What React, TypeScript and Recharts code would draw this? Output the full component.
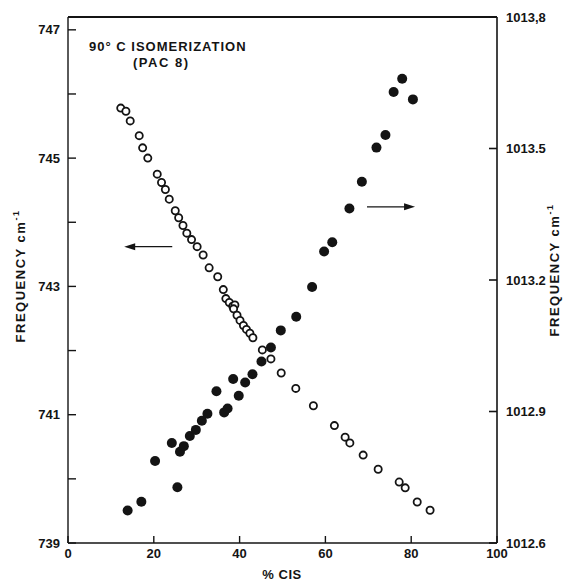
import React from 'react';
import { ScatterChart, Scatter, XAxis, YAxis, ReferenceLine } from 'recharts';

// open circles, left axis (cm-1 near 740-746)
const openPctCis = [
  12.3, 13.5, 14.5, 16.6, 17.4, 18.6, 20.8, 21.8, 22.7, 23.6, 25.0, 25.8, 26.8, 27.7, 28.8,
  30.1, 31.5, 32.9, 34.9, 36.2, 36.8, 37.6, 38.4, 38.9, 38.6, 39.4, 40.1, 40.9, 41.6, 42.4,
  43.1, 45.3, 47.3, 49.7, 53.1, 57.2, 62.1, 64.6, 65.7, 68.8, 72.3, 77.2, 78.6, 81.4, 84.4,
];
const openFreq = [
  745.78, 745.73, 745.58, 745.35, 745.16, 745.0, 744.75, 744.62, 744.51, 744.36, 744.18, 744.07, 743.95, 743.83, 743.73,
  743.62, 743.49, 743.29, 743.15, 742.95, 742.81, 742.75, 742.69, 742.71, 742.65, 742.55, 742.47, 742.39, 742.33, 742.27,
  742.2, 742.01, 741.87, 741.65, 741.41, 741.14, 740.83, 740.65, 740.56, 740.37, 740.15, 739.95, 739.86, 739.64, 739.51,
];

// filled circles, right axis (cm-1 near 1013)
const filledPctCis = [
  13.9, 17.1, 20.3, 24.2, 25.5, 26.1, 27.0, 28.4, 29.8, 31.2, 32.5, 34.6, 36.4, 37.2, 38.5,
  39.8, 41.3, 43.0, 45.1, 47.3, 49.6, 53.2, 56.9, 59.7, 61.6, 65.6, 68.5, 71.9, 74.0, 75.9,
  77.9, 80.4,
];
const filledFreq = [
  1012.674, 1012.694, 1012.787, 1012.828, 1012.727, 1012.808, 1012.821, 1012.844, 1012.858, 1012.879, 1012.895, 1012.946, 1012.898, 1012.907, 1012.974,
  1012.936, 1012.966, 1012.985, 1013.014, 1013.046, 1013.085, 1013.116, 1013.184, 1013.265, 1013.286, 1013.363, 1013.424, 1013.502, 1013.531, 1013.629,
  1013.659, 1013.612,
];

const xTicks = [0, 20, 40, 60, 80, 100];
const topTicks = [20, 40, 60, 80];
const leftTicks = [739, 740, 741, 742, 743, 744, 745, 746, 747];
const rightTicks = [1012.6, 1012.9, 1013.2, 1013.5, 1013.8];

const openData = openPctCis.map((x, i) => ({ x, y: openFreq[i] }));
const filledData = filledPctCis.map((x, i) => ({ x, y: filledFreq[i] }));

const INK = '#141414';
const FONT = '"Liberation Sans", Arial, sans-serif';
const tickStyle = { fill: INK, fontSize: 13, fontWeight: 700, fontFamily: FONT };

const OpenDot = (p: any) => (
  <circle cx={p.cx} cy={p.cy} r={3.6} fill="#fff" stroke={INK} strokeWidth={1.8} />
);
const FilledDot = (p: any) => <circle cx={p.cx} cy={p.cy} r={5} fill={INK} />;

const Arrow = (p: any) => {
  const { x1, y1, x2, y2 } = p;
  const dir = x2 > x1 ? 1 : -1;
  return (
    <g>
      <line x1={x1} y1={y1} x2={x2 - dir * 6} y2={y2} stroke={INK} strokeWidth={1.2} />
      <polygon points={`${x2},${y2} ${x2 - dir * 11},${y2 - 3.5} ${x2 - dir * 11},${y2 + 3.5}`} fill={INK} />
    </g>
  );
};

const App: React.FC = () => {
  return (
    <div style={{ position: 'fixed', left: 0, top: 0, width: 564, height: 582, background: '#fff' }}>
      <ScatterChart width={564} height={582} margin={{ top: 7, right: 7, bottom: 9, left: 8 }}>
        <XAxis
          xAxisId="b"
          type="number"
          dataKey="x"
          domain={[0, 100]}
          ticks={xTicks}
          tickSize={-7}
          tickMargin={13}
          height={30}
          stroke={INK}
          strokeWidth={1.4}
          tick={tickStyle}
        />
        <XAxis
          xAxisId="t"
          orientation="top"
          type="number"
          dataKey="x"
          domain={[0, 100]}
          ticks={topTicks}
          tickSize={-7}
          tickFormatter={() => ''}
          height={10}
          stroke={INK}
          strokeWidth={1.8}
        />
        <YAxis
          yAxisId="l"
          type="number"
          dataKey="y"
          domain={[739, 747.2]}
          ticks={leftTicks}
          tickFormatter={(v: number) => (v % 2 === 1 ? String(v) : '')}
          tickSize={-8}
          tickMargin={16}
          width={60}
          stroke={INK}
          strokeWidth={1.4}
          tick={tickStyle}
          allowDataOverflow
        />
        <YAxis
          yAxisId="r"
          orientation="right"
          type="number"
          dataKey="y"
          domain={[1012.6, 1013.8]}
          ticks={rightTicks}
          tickFormatter={(v: number) => (v === 1013.8 ? '1013,8' : v.toFixed(1))}
          tickSize={-8}
          tickMargin={17}
          width={60}
          stroke={INK}
          strokeWidth={1.6}
          tick={{ ...tickStyle, textAnchor: 'start' }}
          allowDataOverflow
        />
        <Scatter xAxisId="b" yAxisId="l" data={openData} shape={OpenDot} isAnimationActive={false} />
        <Scatter xAxisId="b" yAxisId="r" data={filledData} shape={FilledDot} isAnimationActive={false} />
        <ReferenceLine
          xAxisId="b"
          yAxisId="l"
          segment={[{ x: 24.3, y: 743.62 }, { x: 13.1, y: 743.62 }]}
          shape={Arrow}
        />
        <ReferenceLine
          xAxisId="b"
          yAxisId="r"
          segment={[{ x: 69.7, y: 1013.367 }, { x: 80.9, y: 1013.367 }]}
          shape={Arrow}
        />
      </ScatterChart>
      <svg
        width={564}
        height={582}
        style={{ position: 'absolute', left: 0, top: 0, pointerEvents: 'none' }}
        fontFamily={FONT}
        fontWeight={700}
        fill={INK}
      >
        <text x={89} y={51} fontSize={13} letterSpacing={1}>90° C ISOMERIZATION</text>
        <text x={133} y={67} fontSize={13} letterSpacing={1.5}>(PAC 8)</text>
        <text x={282} y={579} fontSize={13} textAnchor="middle" letterSpacing={0.5}>% CIS</text>
        <text transform="translate(25 276) rotate(-90)" fontSize={13} textAnchor="middle" letterSpacing={1.5}>
          FREQUENCY cm<tspan dy={-6} fontSize={9}>-1</tspan>
        </text>
        <text transform="translate(559 270) rotate(-90)" fontSize={13} textAnchor="middle" letterSpacing={1.5}>
          FREQUENCY cm<tspan dy={-6} fontSize={9}>-1</tspan>
        </text>
      </svg>
    </div>
  );
};

export default App;
